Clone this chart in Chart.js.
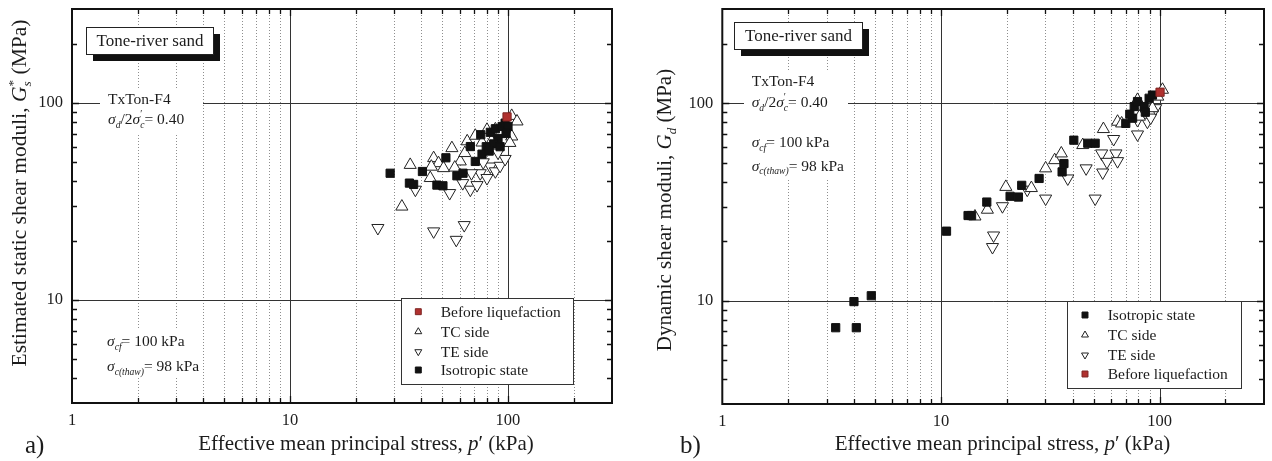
<!DOCTYPE html>
<html>
<head>
<meta charset="utf-8">
<script src="https://cdn.jsdelivr.net/npm/chart.js@4.4.1/dist/chart.umd.min.js"></script>
<style>
  html, body { margin: 0; padding: 0; background: #fff; }
  #wrap { position: relative; width: 1272px; height: 461px; overflow: hidden; }
  #wrap canvas { position: absolute; top: 0; }
</style>
</head>
<body>
<div id="wrap">
  <canvas id="chartA" width="636" height="461" style="left:0"></canvas>
  <canvas id="chartB" width="636" height="461" style="left:636px"></canvas>
</div>
<script>
// axis ticks (log scales)
const xTickValues = [1, 2, 3, 4, 5, 6, 7, 8, 9, 10, 20, 30, 40, 50, 60, 70, 80, 90, 100, 200, 300];
const yTickValues = [3, 4, 5, 6, 7, 8, 9, 10, 20, 30, 40, 50, 60, 70, 80, 90, 100, 200, 300];
const xTickLabels = [1, 10, 100];
const yTickLabels = [10, 100];

// panel a) : estimated static shear moduli Gs* vs p' [kPa, MPa]
const aBefore = [[99, 85]];
const aTC = [[32.6, 29.8], [35.6, 48.5], [44.0, 41.6], [45.6, 52.5], [48.0, 49.5], [44.5, 47.5], [50.6, 46.7],
  [55.3, 59.0], [60.4, 50.5], [65.0, 63.9], [63.4, 55.7], [70.8, 68.2], [80.1, 73.1], [87.5, 73.5],
  [104, 67.6], [102, 62.7], [104, 86], [110, 80.6], [57, 47], [76, 63], [92, 70], [84, 64]];
const aTE = [[25.3, 23.2], [37.6, 36.3], [45.6, 22.3], [54.0, 34.9], [57.9, 20.2], [63.0, 24.0], [62.0, 39.2],
  [67.2, 36.3], [72.1, 38.3], [74.6, 44.0], [80.1, 41.6], [83, 47.6], [87.5, 45], [92, 48], [97, 52],
  [77, 50], [68, 44], [90, 56]];
const aIso = [[28.8, 44.0], [35.3, 39.2], [36.9, 38.6], [40.5, 44.9], [47.2, 38.3], [50.3, 38.0], [51.9, 52.7],
  [58.3, 42.7], [62.2, 44.0], [67.2, 60.1], [70.8, 50.5], [75, 69], [79.5, 60], [83, 71], [87.5, 74],
  [90, 66], [94, 76], [97, 79], [100, 76], [98, 70], [86, 62], [76, 55], [92, 60], [82, 57]];

// panel b) : dynamic shear moduli Gd vs p'
const bIso = [[3.3, 7.3], [4.0, 9.9], [4.1, 7.3], [4.8, 10.6], [10.6, 22.5], [13.3, 27.0], [13.8, 27.0],
  [16.2, 31.6], [20.7, 33.8], [22.6, 33.5], [23.4, 38.4], [28.1, 41.6], [35.8, 44.9], [36.5, 49.5],
  [40.5, 65.0], [46.9, 62.7], [50.7, 62.7], [70.0, 79.1], [75.2, 84.0], [76.5, 96.2], [79.2, 102],
  [84.9, 96.2], [89.5, 106], [92.7, 110], [86, 90], [73, 88]];
const bTC = [[14.3, 26.7], [16.3, 28.9], [19.8, 37.7], [25.9, 37.2], [30.1, 46.8], [33.1, 51.5], [35.5, 55.7],
  [44.5, 61.4], [55.3, 74.0], [64.2, 80.6], [67, 79], [79.2, 104], [80.8, 85.5], [92.7, 94.4], [103, 117], [98, 108]];
const bTE = [[17.4, 21.4], [17.2, 18.7], [19.1, 30.1], [24.8, 36.5], [30.1, 32.9], [38.0, 41.6], [46.1, 46.8],
  [50.7, 32.9], [54.3, 55.7], [54.9, 44.6], [57.4, 50.5], [61.6, 65.9], [63.1, 55.7], [64.2, 50.9],
  [79.2, 69.5], [79.2, 82.2], [87.9, 80.6], [91.0, 84.6], [95.9, 94.4]];
const bBefore = [[100.4, 113.7]];

const SERIF = '"Liberation Serif", "Times New Roman", serif';
const INK = '#1c1c1c';

const seriesStyle = {
  before: { label: 'Before liquefaction', style: 'rect', r: 5.8, legendR: 4.2, rot: 0, fill: '#b0312f', line: '#7d2422', order: 0 },
  iso:    { label: 'Isotropic state', style: 'rect', r: 5.8, legendR: 4.2, rot: 0, fill: '#111', line: '#111', order: 1 },
  tc:     { label: 'TC side', style: 'triangle', r: 7, legendR: 4, rot: 0, fill: '#fff', line: '#222', order: 2 },
  te:     { label: 'TE side', style: 'triangle', r: 7, legendR: 4, rot: 180, fill: '#fff', line: '#222', order: 3 }
};

const sigmaRatio = [['σ', 'it'], ['d', 'it sub'], ['/2', ''], ['σ', 'it'], ['c', 'it sub'], ['′', 'sup over'], ['= 0.40', '']];
const sigmaCf = [['σ', 'it'], ['cf', 'it sub'], ['= 100 kPa', '']];
const sigmaThaw = [['σ', 'it'], ['c(thaw)', 'it sub'], ['= 98 kPa', '']];
const xTitle = [['Effective mean principal stress, ', ''], ['p', 'it'], ['′', ''], [' (kPa)', '']];

const panels = [
  {
    canvas: 'chartA', series: { before: aBefore, tc: aTC, te: aTE, iso: aIso },
    legendOrder: ['before', 'tc', 'te', 'iso'],
    area: { left: 72, top: 9, right: 612, bottom: 403 },
    yTitle: [['Estimated static shear moduli, ', ''], ['G', 'it'], ['s', 'it sub'], ['*', 'sup over'], [' (MPa)', '']],
    yTitleSize: 21.5,
    yTitlePos: [19, 193], xTitlePos: [366, 450], tag: 'a)', tagPos: [25, 453],
    sandBox: { x: 86, y: 27, w: 127, h: 27 },
    blanks: [{ x: 100, y: 88, w: 103, h: 45 }, { x: 100, y: 328, w: 100, h: 50 }],
    notes: [
      { parts: [['TxTon-F4', '']], pos: [108, 104] },
      { parts: sigmaRatio, pos: [108, 124] },
      { parts: sigmaCf, pos: [107, 346] },
      { parts: sigmaThaw, pos: [107, 371] }
    ],
    legend: { x: 401, y: 298, w: 172, h: 86, rows: [311.7, 331.7, 351.7, 370], markerX: 418.3, textX: 440.7 }
  },
  {
    canvas: 'chartB', series: { before: bBefore, tc: bTC, te: bTE, iso: bIso },
    legendOrder: ['iso', 'tc', 'te', 'before'],
    area: { left: 86.3, top: 9, right: 631, bottom: 404 },
    yTitle: [['Dynamic shear moduli, ', ''], ['G', 'it'], ['d', 'it sub'], [' (MPa)', '']],
    yTitleSize: 21,
    yTitlePos: [28, 210], xTitlePos: [366.5, 450], tag: 'b)', tagPos: [44, 453],
    sandBox: { x: 98, y: 22, w: 128, h: 27 },
    blanks: [{ x: 108, y: 70, w: 104, h: 110 }],
    notes: [
      { parts: [['TxTon-F4', '']], pos: [115.7, 86] },
      { parts: sigmaRatio, pos: [115.7, 106.7] },
      { parts: sigmaCf, pos: [115.7, 146.7] },
      { parts: sigmaThaw, pos: [115.7, 170.5] }
    ],
    legend: { x: 431, y: 301, w: 174, h: 87, rows: [315, 335, 355, 374], markerX: 449, textX: 471.7 }
  }
];

function font(size, italic) {
  return (italic ? 'italic ' : '') + size + 'px ' + SERIF;
}

// mixed text: italic runs, sub/superscripts ('over' = stacked on previous run)
function drawRich(ctx, parts, size, x, y, align) {
  let end = 0, lastStart = 0;
  const items = parts.map(([t, st]) => {
    const fl = st.split(' ');
    const small = fl.includes('sub') || fl.includes('sup');
    const f = font(small ? size * 0.62 : size, fl.includes('it'));
    ctx.font = f;
    const w = ctx.measureText(t).width;
    const sx = fl.includes('over') ? lastStart : end;
    const dy = fl.includes('sub') ? size * 0.25 : fl.includes('sup') ? -size * 0.42 : 0;
    lastStart = sx;
    end = Math.max(end, sx + w);
    return { t, f, sx, dy };
  });
  const x0 = align === 'center' ? x - end / 2 : x;
  ctx.textAlign = 'left';
  ctx.textBaseline = 'alphabetic';
  ctx.fillStyle = INK;
  items.forEach(it => { ctx.font = it.f; ctx.fillText(it.t, x0 + it.sx, y + it.dy); });
}

function isDecade(v) {
  const l = Math.log10(v);
  return Math.abs(l - Math.round(l)) < 1e-6;
}

function decor(p) {
  return {
    id: 'decor_' + p.canvas,
    beforeDatasetsDraw(chart) {
      const { ctx, chartArea: a } = chart;
      const xs = chart.scales.x, ys = chart.scales.y;
      ctx.save();
      ctx.lineWidth = 1;
      xs.ticks.forEach(t => {
        if (t.value <= xs.min || t.value >= xs.max) return;
        const px = Math.round(xs.getPixelForValue(t.value)) + 0.5;
        if (isDecade(t.value)) { ctx.strokeStyle = '#333'; ctx.setLineDash([]); }
        else { ctx.strokeStyle = '#8e8e8e'; ctx.setLineDash([1, 2]); }
        ctx.beginPath(); ctx.moveTo(px, a.top); ctx.lineTo(px, a.bottom); ctx.stroke();
      });
      ctx.setLineDash([]);
      ctx.strokeStyle = '#333';
      ys.ticks.forEach(t => {
        if (t.value <= ys.min || t.value >= ys.max || !isDecade(t.value)) return;
        const py = Math.round(ys.getPixelForValue(t.value)) + 0.5;
        ctx.beginPath(); ctx.moveTo(a.left, py); ctx.lineTo(a.right, py); ctx.stroke();
      });
      ctx.fillStyle = '#fff';
      p.blanks.forEach(b => ctx.fillRect(b.x, b.y, b.w, b.h));
      ctx.restore();
    },
    afterDatasetsDraw(chart) {
      const { ctx, chartArea: a } = chart;
      const xs = chart.scales.x, ys = chart.scales.y;
      ctx.save();
      // inward ticks on all four sides
      ctx.strokeStyle = '#111';
      ctx.lineWidth = 1.3;
      xs.ticks.forEach(t => {
        if (t.value <= xs.min || t.value >= xs.max) return;
        const px = Math.round(xs.getPixelForValue(t.value)) + 0.5;
        const len = isDecade(t.value) ? 7 : 5;
        ctx.beginPath();
        ctx.moveTo(px, a.top); ctx.lineTo(px, a.top + len);
        ctx.moveTo(px, a.bottom); ctx.lineTo(px, a.bottom - len);
        ctx.stroke();
      });
      ys.ticks.forEach(t => {
        if (t.value <= ys.min || t.value >= ys.max) return;
        const py = Math.round(ys.getPixelForValue(t.value)) + 0.5;
        const len = isDecade(t.value) ? 7 : 5;
        ctx.beginPath();
        ctx.moveTo(a.left, py); ctx.lineTo(a.left + len, py);
        ctx.moveTo(a.right, py); ctx.lineTo(a.right - len, py);
        ctx.stroke();
      });
      // frame
      ctx.lineWidth = 2;
      ctx.strokeRect(a.left, a.top, a.right - a.left, a.bottom - a.top);

      // sample label box with drop shadow
      const B = p.sandBox;
      ctx.fillStyle = '#111';
      ctx.fillRect(B.x + 7, B.y + 7, B.w, B.h);
      ctx.fillStyle = '#fff';
      ctx.fillRect(B.x, B.y, B.w, B.h);
      ctx.lineWidth = 1;
      ctx.strokeStyle = '#222';
      ctx.strokeRect(B.x + 0.5, B.y + 0.5, B.w, B.h);
      ctx.fillStyle = INK;
      ctx.font = font(17);
      ctx.textAlign = 'center';
      ctx.textBaseline = 'middle';
      ctx.fillText('Tone-river sand', B.x + B.w / 2 + 0.5, B.y + B.h / 2 + 1);

      // notes
      p.notes.forEach(n => drawRich(ctx, n.parts, 15.5, n.pos[0], n.pos[1], 'left'));

      // legend
      const L = p.legend;
      ctx.fillStyle = '#fff';
      ctx.fillRect(L.x, L.y, L.w, L.h);
      ctx.strokeStyle = '#333';
      ctx.lineWidth = 1;
      ctx.strokeRect(L.x + 0.5, L.y + 0.5, L.w, L.h);
      p.legendOrder.forEach((key, i) => {
        const s = seriesStyle[key];
        ctx.fillStyle = s.fill;
        ctx.strokeStyle = s.line;
        ctx.lineWidth = 1;
        Chart.helpers.drawPoint(ctx, { pointStyle: s.style, radius: s.legendR, rotation: s.rot, borderWidth: 1 }, L.markerX, L.rows[i]);
        ctx.fillStyle = INK;
        ctx.font = font(15.5);
        ctx.textAlign = 'left';
        ctx.textBaseline = 'middle';
        ctx.fillText(s.label, L.textX, L.rows[i] + 1);
      });

      // axis titles and panel tag
      drawRich(ctx, xTitle, 21, p.xTitlePos[0], p.xTitlePos[1], 'center');
      ctx.save();
      ctx.translate(p.yTitlePos[0], p.yTitlePos[1]);
      ctx.rotate(-Math.PI / 2);
      drawRich(ctx, p.yTitle, p.yTitleSize, 0, p.yTitleSize * 0.33, 'center');
      ctx.restore();
      ctx.fillStyle = INK;
      ctx.font = font(25);
      ctx.textAlign = 'left';
      ctx.textBaseline = 'alphabetic';
      ctx.fillText(p.tag, p.tagPos[0], p.tagPos[1]);
      ctx.restore();
    }
  };
}

function makeChart(p) {
  const datasets = ['before', 'iso', 'tc', 'te'].map(key => {
    const s = seriesStyle[key];
    return {
      label: s.label,
      data: p.series[key].map(([x, y]) => ({ x, y })),
      pointStyle: s.style,
      pointRadius: s.r,
      pointRotation: s.rot,
      backgroundColor: s.fill,
      borderColor: s.line,
      borderWidth: 1,
      order: s.order
    };
  });
  const tickFont = { family: SERIF, size: 16.5 };
  return new Chart(document.getElementById(p.canvas), {
    type: 'scatter',
    data: { datasets },
    options: {
      responsive: false,
      animation: false,
      events: [],
      layout: { padding: { left: 0, top: p.area.top, right: 636 - p.area.right, bottom: 0 } },
      plugins: { legend: { display: false }, tooltip: { enabled: false } },
      scales: {
        x: {
          type: 'logarithmic', position: 'bottom', min: 1, max: 300,
          afterBuildTicks: s => { s.ticks = xTickValues.map(v => ({ value: v })); },
          afterFit: s => {
            s.height = 461 - p.area.bottom;
            s.paddingLeft = 0; s.paddingRight = 0; s.paddingTop = 0; s.paddingBottom = 0;
          },
          grid: { display: false, drawTicks: false },
          border: { display: false },
          ticks: {
            autoSkip: false, maxRotation: 0, padding: 8, color: INK, font: tickFont,
            callback: v => xTickLabels.includes(v) ? String(v) : ''
          }
        },
        y: {
          type: 'logarithmic', position: 'left', min: 3, max: 300,
          afterBuildTicks: s => { s.ticks = yTickValues.map(v => ({ value: v })); },
          afterFit: s => {
            s.width = p.area.left;
            s.paddingLeft = 0; s.paddingRight = 0; s.paddingTop = 0; s.paddingBottom = 0;
          },
          grid: { display: false, drawTicks: false },
          border: { display: false },
          ticks: {
            autoSkip: false, padding: 9, color: INK, font: tickFont,
            callback: v => yTickLabels.includes(v) ? String(v) : ''
          }
        }
      }
    },
    plugins: [decor(p)]
  });
}

panels.forEach(makeChart);
</script>
</body>
</html>
